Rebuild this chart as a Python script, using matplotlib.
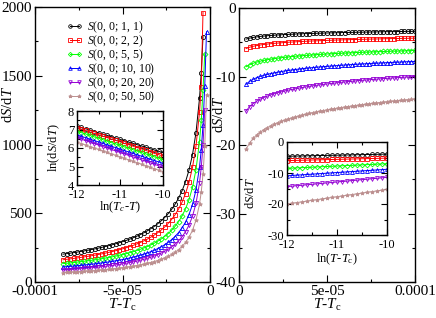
import numpy as np
import matplotlib
matplotlib.use("Agg")
import matplotlib.pyplot as plt
from matplotlib.ticker import MultipleLocator

plt.rcParams['font.family'] = ['Liberation Serif', 'DejaVu Serif']
plt.rcParams['mathtext.fontset'] = 'custom'
plt.rcParams['mathtext.rm'] = 'Liberation Serif'
plt.rcParams['mathtext.it'] = 'Liberation Serif:italic'

labels = ['$S$(0, 0; 1, 1)', '$S$(0, 0; 2, 2)', '$S$(0, 0; 5, 5)',
          '$S$(0, 0; 10, 10)', '$S$(0, 0; 20, 20)', '$S$(0, 0; 50, 50)']
colors = ['black', 'red', '#00ff00', 'blue', '#9400d3', '#bc8f8f']
markers = ['o', 's', 'D', '^', 'v', '*']

# T - Tc below Tc (units of 1e-6)
dT_below = -np.array([84, 82, 80, 78, 76, 74, 72, 70, 68, 66, 64, 62, 60, 58, 56, 54,
                      52, 50, 48, 46, 44, 42, 40, 38, 36, 34, 32, 30, 28, 26, 24, 22,
                      20, 18, 16, 14, 12, 10, 8, 6, 5, 4, 3, 2]) * 1e-6

black_lo = [202.4, 205.9, 209.5, 213.4, 217.4, 221.5, 225.9, 230.5, 235.4, 240.4, 245.8,
            251.4, 257.4, 263.7, 270.4, 277.5, 285.1, 293.2, 301.9, 311.3, 321.3, 332.1,
            343.9, 356.8, 370.9, 386.3, 403.4, 422.5, 443.9, 468.0, 495.6, 527.4, 564.6,
            608.8, 662.2, 728.6, 813.5, 926.7, 1087.1, 1335.3, 1521.3, 1784.4]
red_lo = [161.8, 164.8, 168.0, 171.3, 174.8, 178.4, 182.2, 186.2, 190.4, 194.8, 199.5,
          204.4, 209.6, 215.2, 221.1, 227.4, 234.1, 241.2, 248.9, 257.2, 266.2, 275.9,
          286.4, 298.0, 310.7, 324.6, 340.2, 357.5, 377.0, 399.1, 424.5, 453.9, 488.5,
          529.8, 580.0, 642.8, 723.9, 833.0, 989.3, 1234.4, 1420.6, 1960.0]
green_lo = [133.8, 136.3, 138.9, 141.6, 144.5, 147.5, 150.6, 154.0, 157.4, 161.1, 164.9,
            169.0, 173.4, 177.9, 182.8, 188.0, 193.6, 199.5, 205.9, 212.7, 220.1, 228.1,
            236.9, 246.4, 256.9, 268.5, 281.3, 295.6, 311.7, 330.0, 351.0, 375.4, 403.9,
            438.1, 479.6, 531.6, 598.6, 688.8, 818.0, 1020.7, 1174.7, 1394.7, 1660.0]
blue_lo = [109.5, 111.6, 113.7, 115.9, 118.3, 120.7, 123.3, 126.0, 128.9, 131.8, 135.0,
           138.4, 141.9, 145.7, 149.6, 153.9, 158.4, 163.3, 168.5, 174.1, 180.2, 186.7,
           193.9, 201.7, 210.3, 219.7, 230.2, 242.0, 255.2, 270.2, 287.3, 307.2, 330.6,
           358.6, 392.6, 435.1, 490.0, 563.8, 669.6, 835.5, 961.5, 1141.6, 1424.8, 1820.0]
purple_lo = [87.2, 88.8, 90.6, 92.5, 94.4, 96.5, 98.6, 100.8, 103.2, 105.7, 108.3,
             111.1, 114.1, 117.2, 120.5, 124.1, 127.9, 132.0, 136.4, 141.1, 146.2, 151.7,
             157.8, 164.4, 171.7, 179.7, 188.6, 198.6, 209.9, 222.7, 237.4, 254.6, 274.7,
             298.9, 328.4, 365.4, 413.4, 478.3, 571.8, 719.8, 832.8, 995.6, 1253.2]
brown_lo = [68.6, 69.9, 71.3, 72.7, 74.3, 75.9, 77.6, 79.3, 81.2, 83.1, 85.2,
            87.4, 89.7, 92.2, 94.8, 97.6, 100.6, 103.8, 107.3, 111.0, 115.0, 119.4,
            124.1, 129.3, 135.0, 141.3, 148.4, 156.2, 165.1, 175.2, 186.8, 200.2, 216.1,
            235.1, 258.3, 287.4, 325.2, 376.2, 449.8, 566.2, 655.1, 783.2, 985.8, 1363.5]

# T - Tc above Tc (units of 1e-6)
dT_above = np.array([4, 6, 8, 10, 12, 14, 16, 18, 20, 22, 24, 26, 28, 30, 32, 34, 36,
                     38, 40, 42, 44, 46, 48, 50, 52, 54, 56, 58, 60, 62, 64, 66, 68,
                     70, 72, 74, 76, 78, 80, 82, 84, 86, 88, 90, 92, 94, 96, 98, 100]) * 1e-6

black_hi = [-4.54, -4.40, -4.30, -4.22, -4.15, -4.10, -4.05, -4.01, -3.97, -3.94,
            -3.91, -3.88, -3.85, -3.83, -3.80, -3.78, -3.76, -3.74, -3.73, -3.71,
            -3.69, -3.68, -3.66, -3.65, -3.63, -3.62, -3.61, -3.59, -3.58, -3.57,
            -3.56, -3.55, -3.54, -3.53, -3.52, -3.51, -3.50, -3.49, -3.48, -3.47,
            -3.46, -3.45, -3.45, -3.44, -3.43, -3.42, -3.41, -3.41, -3.40]
red_hi = [-5.92, -5.73, -5.59, -5.49, -5.40, -5.33, -5.27, -5.21, -5.16, -5.12,
          -5.08, -5.04, -5.00, -4.97, -4.94, -4.91, -4.88, -4.86, -4.83, -4.81,
          -4.79, -4.77, -4.75, -4.73, -4.71, -4.69, -4.67, -4.66, -4.64, -4.63,
          -4.61, -4.60, -4.58, -4.57, -4.56, -4.54, -4.53, -4.52, -4.51, -4.49,
          -4.48, -4.47, -4.46, -4.45, -4.44, -4.43, -4.42, -4.41, -4.40]
green_hi = [-8.58, -8.28, -8.07, -7.90, -7.77, -7.65, -7.55, -7.47, -7.39, -7.32,
            -7.25, -7.20, -7.14, -7.09, -7.04, -7.00, -6.96, -6.92, -6.88, -6.84,
            -6.81, -6.77, -6.74, -6.71, -6.68, -6.66, -6.63, -6.60, -6.58, -6.55,
            -6.53, -6.51, -6.49, -6.46, -6.44, -6.42, -6.40, -6.38, -6.37, -6.35,
            -6.33, -6.31, -6.29, -6.28, -6.26, -6.25, -6.23, -6.21, -6.20]
blue_hi = [-11.13, -10.71, -10.41, -10.18, -9.99, -9.84, -9.70, -9.57, -9.47, -9.37,
           -9.28, -9.19, -9.12, -9.05, -8.98, -8.92, -8.86, -8.80, -8.75, -8.70,
           -8.65, -8.60, -8.56, -8.52, -8.48, -8.44, -8.40, -8.36, -8.33, -8.29,
           -8.26, -8.23, -8.20, -8.17, -8.14, -8.11, -8.08, -8.06, -8.03, -8.01,
           -7.98, -7.96, -7.93, -7.91, -7.89, -7.86, -7.84, -7.82, -7.80]
purple_hi = [-15.04, -14.41, -13.96, -13.61, -13.32, -13.08, -12.87, -12.69, -12.52, -12.37,
             -12.24, -12.11, -11.99, -11.89, -11.79, -11.69, -11.60, -11.52, -11.44, -11.36,
             -11.29, -11.22, -11.15, -11.09, -11.02, -10.97, -10.91, -10.85, -10.80, -10.75,
             -10.70, -10.65, -10.60, -10.56, -10.51, -10.47, -10.43, -10.39, -10.35, -10.31,
             -10.27, -10.24, -10.20, -10.17, -10.13, -10.10, -10.06, -10.03, -10.00]
brown_hi = [-20.63, -19.71, -19.05, -18.54, -18.13, -17.78, -17.47, -17.20, -16.96, -16.75,
            -16.55, -16.37, -16.20, -16.04, -15.89, -15.76, -15.63, -15.50, -15.39, -15.28,
            -15.17, -15.07, -14.97, -14.88, -14.79, -14.70, -14.62, -14.54, -14.46, -14.39,
            -14.32, -14.25, -14.18, -14.11, -14.05, -13.99, -13.93, -13.87, -13.81, -13.75,
            -13.70, -13.64, -13.59, -13.54, -13.49, -13.44, -13.39, -13.35, -13.30]

# insets: log scale abscissa
ln_dT = [-12.0, -11.9, -11.8, -11.7, -11.6, -11.5, -11.4, -11.3, -11.2, -11.1, -11.0,
         -10.9, -10.8, -10.7, -10.6, -10.5, -10.4, -10.3, -10.2, -10.1, -10.0]

black_ln = [7.18, 7.11, 7.04, 6.97, 6.89, 6.82, 6.75, 6.68, 6.61, 6.54, 6.47,
            6.39, 6.32, 6.25, 6.18, 6.11, 6.04, 5.96, 5.89, 5.82, 5.75]
red_ln = [7.10, 7.02, 6.95, 6.87, 6.79, 6.72, 6.64, 6.56, 6.48, 6.41, 6.33,
          6.25, 6.18, 6.10, 6.02, 5.95, 5.87, 5.79, 5.71, 5.64, 5.56]
green_ln = [6.91, 6.83, 6.76, 6.68, 6.60, 6.53, 6.45, 6.37, 6.29, 6.22, 6.14,
            6.06, 5.99, 5.91, 5.83, 5.76, 5.68, 5.60, 5.52, 5.45, 5.37]
blue_ln = [6.71, 6.63, 6.56, 6.48, 6.40, 6.33, 6.25, 6.17, 6.09, 6.02, 5.94,
           5.86, 5.79, 5.71, 5.63, 5.56, 5.48, 5.40, 5.32, 5.25, 5.17]
purple_ln = [6.56, 6.48, 6.40, 6.32, 6.24, 6.16, 6.08, 6.00, 5.92, 5.84, 5.76,
             5.68, 5.60, 5.52, 5.44, 5.36, 5.28, 5.20, 5.12, 5.04, 4.96]
brown_ln = [6.32, 6.24, 6.16, 6.08, 6.00, 5.92, 5.84, 5.76, 5.68, 5.60, 5.52,
            5.44, 5.36, 5.28, 5.20, 5.12, 5.04, 4.96, 4.88, 4.80, 4.72]

black_ins = [-4.60, -4.57, -4.53, -4.50, -4.46, -4.43, -4.39, -4.36, -4.32, -4.29, -4.25,
             -4.22, -4.18, -4.15, -4.11, -4.08, -4.04, -4.01, -3.97, -3.94, -3.90]
red_ins = [-6.00, -5.96, -5.92, -5.88, -5.84, -5.80, -5.76, -5.72, -5.68, -5.64, -5.60,
           -5.56, -5.52, -5.48, -5.44, -5.40, -5.36, -5.32, -5.28, -5.24, -5.20]
green_ins = [-8.50, -8.43, -8.35, -8.28, -8.20, -8.13, -8.05, -7.98, -7.90, -7.83, -7.75,
             -7.68, -7.60, -7.53, -7.45, -7.38, -7.30, -7.23, -7.15, -7.08, -7.00]
blue_ins = [-10.90, -10.80, -10.69, -10.59, -10.48, -10.38, -10.27, -10.17, -10.06, -9.96, -9.85,
            -9.75, -9.64, -9.54, -9.43, -9.33, -9.22, -9.12, -9.01, -8.91, -8.80]
purple_ins = [-14.40, -14.25, -14.10, -13.95, -13.80, -13.65, -13.50, -13.35, -13.20, -13.05, -12.90,
              -12.75, -12.60, -12.45, -12.30, -12.15, -12.00, -11.85, -11.70, -11.55, -11.40]
brown_ins = [-20.00, -19.77, -19.53, -19.30, -19.06, -18.83, -18.59, -18.36, -18.12, -17.89, -17.65,
             -17.42, -17.18, -16.95, -16.71, -16.48, -16.24, -16.01, -15.77, -15.54, -15.30]


def draw(ax, x, ys, ms, lab=False):
    for i, (y, c, m) in enumerate(zip(ys, colors, markers)):
        n = len(y)
        size = ms * 0.85 if m == 'D' else ms
        ax.plot(x[:n], y, color=c, lw=0.7, marker=m, ms=size,
                mfc=c if m == '*' else 'none', mew=0.6,
                label=labels[i] if lab else None)


def style(ax, xt, xtl, yt, ytl, xminor, yminor, size, maj=5, mnr=2.5):
    ax.set_xticks(xt)
    ax.set_xticklabels(xtl)
    ax.set_yticks(yt)
    ax.set_yticklabels(ytl)
    ax.xaxis.set_minor_locator(MultipleLocator(xminor))
    ax.yaxis.set_minor_locator(MultipleLocator(yminor))
    ax.tick_params(which='both', direction='in', top=True, right=True,
                   labelsize=size, pad=2, width=0.8)
    ax.tick_params(which='major', length=maj)
    ax.tick_params(which='minor', length=mnr)
    for s in ax.spines.values():
        s.set_linewidth(1.0)


fig = plt.figure(figsize=(4.36, 3.18), dpi=100)

# left: below Tc
ax1 = fig.add_axes([35 / 436, 36 / 318, 175 / 436, 275 / 318])
draw(ax1, dT_below, [black_lo, red_lo, green_lo, blue_lo, purple_lo, brown_lo], 3.0, lab=True)
ax1.set_xlim(-1e-4, 0)
ax1.set_ylim(0, 2000)
style(ax1, [-1e-4, -5e-5, 0], ['-0.0001', '-5e-05', '0'],
      [0, 500, 1000, 1500, 2000], ['0', '500', '1000', '1500', '2000'],
      2.5e-5, 250, 11)
ax1.set_ylabel(r'd$S$/d$T$', fontsize=10.5)
ax1.yaxis.set_label_coords(-0.115, 0.645)
ax1.set_xlabel(r'$T$-$T_{\rm c}$', fontsize=11)
ax1.xaxis.set_label_coords(0.5, -0.055)
ax1.legend(loc='upper left', bbox_to_anchor=(0.18, 0.955), frameon=False, fontsize=8.5,
           numpoints=2, handlelength=1.4, handletextpad=0.3, labelspacing=-0.12,
           borderpad=0, borderaxespad=0, markerscale=0.85)

# right: above Tc
ax2 = fig.add_axes([239 / 436, 36 / 318, 176 / 436, 274 / 318])
draw(ax2, dT_above, [black_hi, red_hi, green_hi, blue_hi, purple_hi, brown_hi], 3.0)
ax2.set_xlim(0, 1e-4)
ax2.set_ylim(-40, 0)
style(ax2, [0, 5e-5, 1e-4], ['0', '5e-05', '0.0001'],
      [0, -10, -20, -30, -40], ['0', '-10', '-20', '-30', '-40'],
      2.5e-5, 5, 11)
ax2.set_ylabel(r'd$S$/d$T$', fontsize=10.5)
ax2.yaxis.set_label_coords(-0.074, 0.61)
ax2.set_xlabel(r'$T$-$T_{\rm c}$', fontsize=11)
ax2.xaxis.set_label_coords(0.5, -0.055)

# left inset
ax3 = fig.add_axes([77 / 436, 133 / 318, 86 / 436, 74 / 318])
draw(ax3, ln_dT, [black_ln, red_ln, green_ln, blue_ln, purple_ln, brown_ln], 2.8)
ax3.set_xlim(-12, -10)
ax3.set_ylim(4, 8)
style(ax3, [-12, -11, -10], ['-12', '-11', '-10'],
      [4, 5, 6, 7, 8], ['4', '5', '6', '7', '8'], 0.5, 0.5, 9, maj=4, mnr=2)
ax3.tick_params(axis='x', pad=3)
ax3.set_ylabel(r'ln(d$S$/d$T$)', fontsize=9)
ax3.yaxis.set_label_coords(-0.17, 0.5)
ax3.set_xlabel(r'ln($T_c$-$T$)', fontsize=9)
ax3.xaxis.set_label_coords(0.5, -0.2)

# right inset
ax4 = fig.add_axes([287 / 436, 83 / 318, 100 / 436, 93 / 318])
draw(ax4, ln_dT, [black_ins, red_ins, green_ins, blue_ins, purple_ins, brown_ins], 2.8)
ax4.set_xlim(-12, -10)
ax4.set_ylim(-30, 0)
style(ax4, [-12, -11, -10], ['-12', '-11', '-10'],
      [0, -10, -20, -30], ['0', '-10', '-20', '-30'], 0.5, 5, 9, maj=4, mnr=2)
ax4.tick_params(axis='x', pad=3)
ax4.set_ylabel(r'd$S$/d$T$', fontsize=9)
ax4.yaxis.set_label_coords(-0.3, 0.45)
ax4.set_xlabel(r'ln($T$-$T_{\rm c}$)', fontsize=9)
ax4.xaxis.set_label_coords(0.5, -0.18)

fig.savefig('out.png', dpi=100)
